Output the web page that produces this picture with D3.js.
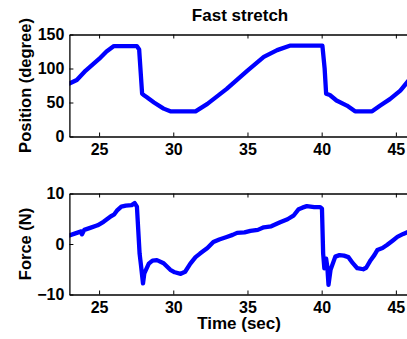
<!DOCTYPE html>
<html>
<head>
<meta charset="utf-8">
<script src="https://cdn.jsdelivr.net/npm/d3@7"></script>
<style>
  body { margin: 0; background: #fff; }
  text { font-family: "Liberation Sans", Arial, sans-serif; font-weight: bold; fill: #000; }
</style>
</head>
<body>
<div id="svganchor"></div>
<script>
let width = 407, height = 339;

// data
let posTime = [23.0, 23.5, 24.1, 25.0, 25.5, 26.0, 27.55, 27.7, 27.9, 28.0, 28.2, 28.7, 29.35, 29.8,
    31.5, 32.3, 33.6, 35.0, 36.1, 37.0, 37.85, 40.05, 40.2, 40.3, 40.55, 41.0, 41.7, 42.25,
    43.4, 43.95, 44.6, 45.3, 46.0];
let positionDeg = [78, 83, 97, 114, 125, 133, 133, 128, 63, 61, 58, 50, 41, 37,
    37, 48, 70, 97, 117, 127, 133.5, 133.5, 100, 63, 61, 53, 45.5, 37,
    37, 45.5, 55, 67.5, 86];

let forceTime = [23.0, 23.4, 23.8, 23.85, 24.0, 24.4, 24.9, 25.3, 25.8, 26.0, 26.2, 26.5, 26.8, 27.2, 27.4,
    27.55, 27.73, 27.82, 27.96, 28.05, 28.35, 28.6, 28.9, 29.35, 29.8, 30.1, 30.5, 30.8, 31.15,
    31.5, 31.8, 32.3, 32.7, 33.1, 33.6, 34.0, 34.3, 34.8, 35.2, 35.7, 36.1, 36.6, 37.2, 37.7,
    38.1, 38.45, 38.7, 39.0, 39.5, 39.9, 40.02, 40.1, 40.18, 40.3, 40.38, 40.46, 40.6, 40.92,
    41.2, 41.5, 41.8, 42.1, 42.4, 42.8, 43.0, 43.3, 43.55, 43.75, 44.1, 44.4, 44.8, 45.1,
    45.5, 46.0];
let forceN = [1.7, 2.1, 2.5, 1.9, 2.8, 3.2, 3.7, 4.4, 5.5, 5.8, 6.6, 7.4, 7.6, 7.7, 8.1,
    7.4, -1.9, -4.1, -7.8, -5.8, -3.9, -3.3, -3.2, -3.8, -5.1, -5.6, -5.9, -5.5, -3.9,
    -2.6, -1.9, -0.8, 0.4, 0.9, 1.4, 1.8, 2.2, 2.3, 2.6, 2.8, 3.3, 3.5, 4.3, 4.9,
    5.6, 6.9, 7.2, 7.5, 7.3, 7.3, 7.0, -1.9, -4.8, -2.9, -4.5, -8.1, -5.1, -2.5,
    -2.2, -2.3, -2.6, -3.8, -4.8, -5.0, -4.7, -3.2, -2.2, -1.2, -0.8, -0.2, 0.7, 1.4,
    2.0, 2.6];

let xTicks = [25, 30, 35, 40, 45];
let posTicks = [0, 50, 100, 150];
let forceTicks = [-10, 0, 10];

let margin = ({left: 69.4, right: 410.7});
let topBox = ({top: 34.5, bottom: 136.5});
let botBox = ({top: 193.5, bottom: 294.5});

let svg = d3.select("#svganchor")
    .append("svg")
    .attr("width", width)
    .attr("height", height);

let xScale = d3.scaleLinear()
    .domain([23, 46])
    .range([margin.left, margin.right]);

function drawPanel(box, yDomain, yTicks, tx, ty, yTitle, id) {
    let yScale = d3.scaleLinear()
        .domain(yDomain)
        .range([box.bottom, box.top]);

    svg.append("clipPath")
        .attr("id", id)
        .append("rect")
        .attr("x", margin.left)
        .attr("y", box.top)
        .attr("width", margin.right - margin.left)
        .attr("height", box.bottom - box.top);

    let line = d3.line()
        .x(function(d) { return xScale(d[0]); })
        .y(function(d) { return yScale(d[1]); });

    svg.append("path")
        .datum(d3.zip(tx, ty))
        .attr("clip-path", `url(#${id})`)
        .attr("fill", "none")
        .attr("stroke", "#0000ff")
        .attr("stroke-width", 4.3)
        .attr("stroke-linejoin", "round")
        .attr("stroke-linecap", "round")
        .attr("d", line);

    // bottom axis, ticks pointing inward
    let gX = svg.append("g")
        .attr("transform", `translate(0,${box.bottom})`)
        .call(d3.axisBottom(xScale).tickValues(xTicks).tickSizeInner(-4).tickSizeOuter(0).tickPadding(7.5));
    gX.selectAll("text").attr("dy", "0.71em").attr("font-size", 16).attr("font-family", null);

    // top edge with ticks
    svg.append("g")
        .attr("transform", `translate(0,${box.top})`)
        .call(d3.axisTop(xScale).tickValues(xTicks).tickSizeInner(-4).tickSizeOuter(0).tickFormat(""));

    let gY = svg.append("g")
        .attr("transform", `translate(${margin.left},0)`)
        .call(d3.axisLeft(yScale).tickValues(yTicks).tickSizeInner(-4).tickSizeOuter(0).tickPadding(5));
    gY.selectAll("text").attr("font-size", 16).attr("font-family", null);

    svg.selectAll(".domain").attr("stroke", "#000").attr("stroke-width", 1.3);
    svg.selectAll(".tick line").attr("stroke", "#000");

    svg.append("text")
        .attr("text-anchor", "middle")
        .attr("transform", `translate(31,${(box.top + box.bottom) / 2}) rotate(-90)`)
        .attr("font-size", 16.5)
        .text(yTitle);
}

drawPanel(topBox, [0, 150], posTicks, posTime, positionDeg, "Position (degree)", "clipTop");
drawPanel(botBox, [-10, 10], forceTicks, forceTime, forceN, "Force (N)", "clipBot");

svg.append("text")
    .attr("text-anchor", "middle")
    .attr("x", (margin.left + margin.right) / 2)
    .attr("y", 20.5)
    .attr("font-size", 17)
    .text("Fast stretch");

svg.append("text")
    .attr("text-anchor", "middle")
    .attr("x", (margin.left + margin.right) / 2 - 1)
    .attr("y", 328.5)
    .attr("font-size", 17)
    .text("Time (sec)");
</script>
</body>
</html>
